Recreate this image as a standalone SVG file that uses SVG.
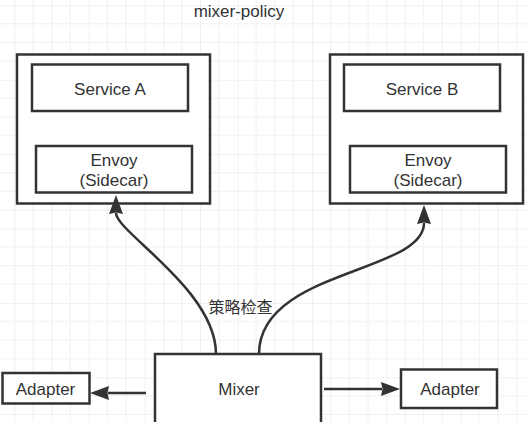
<svg xmlns="http://www.w3.org/2000/svg" width="527" height="422" viewBox="0 0 527 422">
  <defs>
    <pattern id="grid" patternUnits="userSpaceOnUse" x="14.5" y="5.3" width="74.4" height="74.4">
      <path d="M18.6,0 V74.4 M37.2,0 V74.4 M55.8,0 V74.4 M0,18.6 H74.4 M0,37.2 H74.4 M0,55.8 H74.4" stroke="#f0f0f0" stroke-width="1" fill="none"/>
      <path d="M0,0 V74.4 M0,0 H74.4" stroke="#e3e3e3" stroke-width="1" fill="none"/>
    </pattern>
    <marker id="arrow" markerUnits="userSpaceOnUse" viewBox="0 0 19 14" markerWidth="19" markerHeight="14" refX="1" refY="7" orient="auto">
      <path d="M0,0 L19,7 L0,14 L1.5,7 z" fill="#333333"/>
    </marker>
    <style>
      .box { fill: #ffffff; stroke: #333333; stroke-width: 2.5; }
      .txt { font-family: "Liberation Sans", Arial, sans-serif; font-size: 17px; fill: #333333; text-anchor: middle; }
      .cjk { font-family: "Noto Sans CJK SC", "Noto Sans", sans-serif; font-size: 16px; fill: #333333; text-anchor: middle; }
      .link { fill: none; stroke: #333333; stroke-width: 2.5; }
    </style>
  </defs>
  <rect x="0" y="0" width="527" height="422" fill="#ffffff"/>
  <rect x="0" y="0" width="527" height="422" fill="url(#grid)"/>

  <text class="txt" x="239" y="17">mixer-policy</text>

  <g id="pod-a">
    <rect class="box" x="17" y="54.5" width="193" height="149"/>
    <g id="service-a">
      <rect class="box" x="32" y="64.5" width="156" height="46.5"/>
      <text class="txt" x="110" y="94.5">Service A</text>
    </g>
    <g id="envoy-a">
      <rect class="box" x="36" y="146" width="156" height="46.5"/>
      <text class="txt" x="114" y="165.5">Envoy</text>
      <text class="txt" x="114" y="185.5">(Sidecar)</text>
    </g>
  </g>

  <g id="pod-b">
    <rect class="box" x="330" y="54.5" width="193" height="149"/>
    <g id="service-b">
      <rect class="box" x="344" y="64.5" width="156" height="46.5"/>
      <text class="txt" x="422" y="94.5">Service B</text>
    </g>
    <g id="envoy-b">
      <rect class="box" x="350" y="146" width="156" height="46.5"/>
      <text class="txt" x="428" y="165.5">Envoy</text>
      <text class="txt" x="428" y="185.5">(Sidecar)</text>
    </g>
  </g>

  <g id="mixer">
    <rect class="box" x="155" y="354" width="166" height="80"/>
    <text class="txt" x="239" y="395">Mixer</text>
  </g>

  <g id="adapter-left">
    <rect class="box" x="2.5" y="373" width="87" height="30.5"/>
    <text class="txt" x="45.5" y="395">Adapter</text>
  </g>

  <g id="adapter-right">
    <rect class="box" x="401" y="369.5" width="96" height="38.5"/>
    <text class="txt" x="450" y="395">Adapter</text>
  </g>

  <g id="connectors">
    <path class="link" d="M216,354 C216,290 116,232 116,213" marker-end="url(#arrow)"/>
    <path class="link" d="M259,354 C259,270 424,273 424,223" marker-end="url(#arrow)"/>
    <path class="link" d="M146,393 H108" marker-end="url(#arrow)"/>
    <path class="link" d="M324,389 H382" marker-end="url(#arrow)"/>
    <text class="cjk" x="240.5" y="312.5">策略检查</text>
  </g>
</svg>
